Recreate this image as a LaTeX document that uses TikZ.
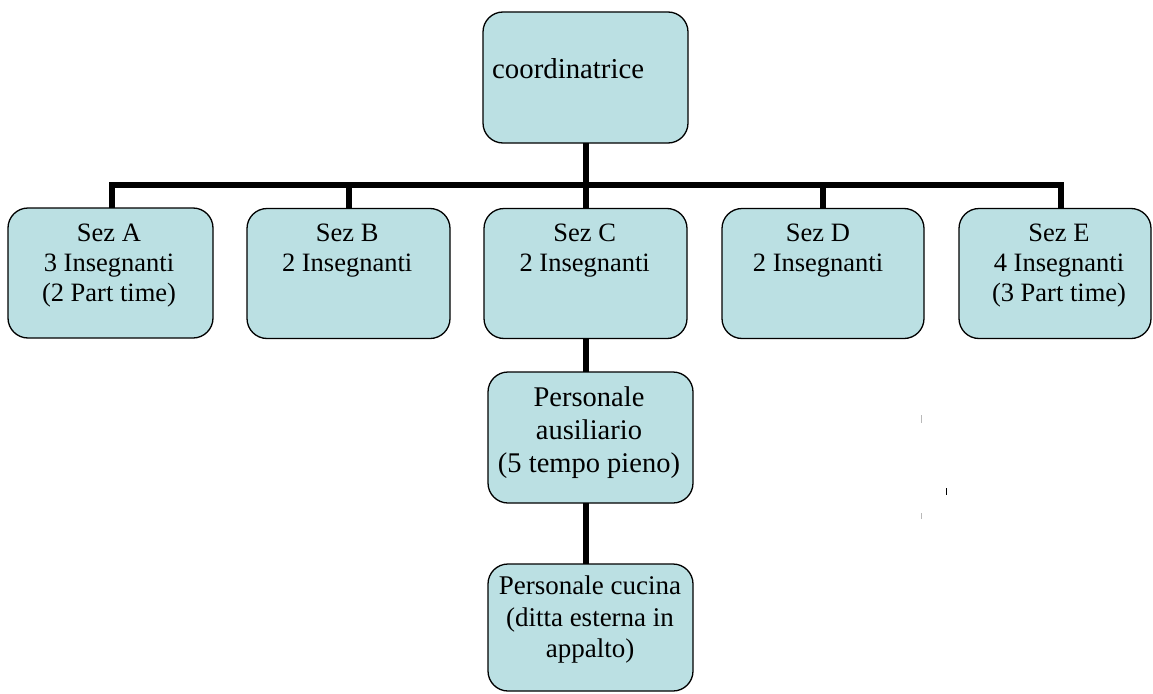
\documentclass[tikz,border=0pt]{standalone}
\usepackage{fontspec}
\setmainfont{Liberation Serif}
\definecolor{boxfill}{HTML}{BBE0E3}
\begin{document}
\begin{tikzpicture}[x=1pt,y=-1pt,
  box/.style={draw=black,line width=1.3pt,fill=boxfill,rounded corners=20pt,inner sep=0pt,outer sep=0pt},
  conn/.style={line width=5.5pt,line join=miter},
  sezt/.style={inner sep=0pt,align=center,anchor=north,font=\fontsize{26.5}{30.2}\selectfont},
  aust/.style={inner sep=0pt,align=center,anchor=north,font=\fontsize{28.5}{33}\selectfont},
  cuct/.style={inner sep=0pt,align=center,anchor=north,font=\fontsize{27}{31.5}\selectfont},
  tick/.style={line width=1.3pt}]
\useasboundingbox[fill=white] (0,0) rectangle (1153,693);

% boxes
\node[box,minimum width=205pt,minimum height=131pt] (coord) at (585.5,77.5) {};
\node[box,minimum width=205pt,minimum height=130pt] (A) at (110.5,273) {};
\node[box,minimum width=203pt,minimum height=130pt] (B) at (348.5,273.5) {};
\node[box,minimum width=203pt,minimum height=130pt] (C) at (585.5,273.5) {};
\node[box,minimum width=202pt,minimum height=130pt] (D) at (823,273.5) {};
\node[box,minimum width=192pt,minimum height=130pt] (E) at (1055,273.5) {};
\node[box,minimum width=205pt,minimum height=131pt] (aus) at (590.5,437.5) {};
\node[box,minimum width=205pt,minimum height=127pt] (cuc) at (590.5,627.5) {};

% texts
\node[inner sep=0pt,anchor=base west,font=\fontsize{28.8}{33}\selectfont] (tcoord) at (492,78.3) {coordinatrice};
\node[sezt] (tA) at (109,221) {\rule{0pt}{20pt}Sez A\\3 Insegnanti\\(2 Part time)};
\node[sezt] (tB) at (347.2,221) {\rule{0pt}{20pt}Sez B\\2 Insegnanti};
\node[sezt] (tC) at (584.7,221) {\rule{0pt}{20pt}Sez C\\2 Insegnanti};
\node[sezt] (tD) at (818,221) {\rule{0pt}{20pt}Sez D\\2 Insegnanti};
\node[sezt] (tE) at (1059,221) {\rule{0pt}{20pt}Sez E\\4 Insegnanti\\(3 Part time)};
\node[aust] (taus) at (589,384) {\rule{0pt}{22pt}Personale\\ausiliario\\(5 tempo pieno)};
\node[cuct] (tcuc) at (590,573.3) {\rule{0pt}{21pt}Personale cucina\\(ditta esterna in\\appalto)};

% connectors
\coordinate (bar) at (586,185);
\coordinate (Ecol) at (1061,208);
\draw[conn] (coord.south -| bar) -- (bar);
\draw[conn] ([xshift=1.5pt]A.north) |- (bar) -| (Ecol);
\draw[conn] ([xshift=0.5pt]B.north) -- ([xshift=0.5pt]B.north |- bar);
\draw[conn] (C.north -| bar) -- (bar);
\draw[conn] (D.north) -- (D.north |- bar);
\draw[conn] (C.south -| bar) -- (aus.north -| bar);
\draw[conn] (aus.south -| bar) -- (cuc.north -| bar);

% stray marks
\draw[tick,gray!55] (921.7,415) -- (921.7,423);
\draw[tick,black] (946.7,488) -- (946.7,495);
\draw[tick,gray!55] (921.7,513) -- (921.7,519);
\end{tikzpicture}
\end{document}
